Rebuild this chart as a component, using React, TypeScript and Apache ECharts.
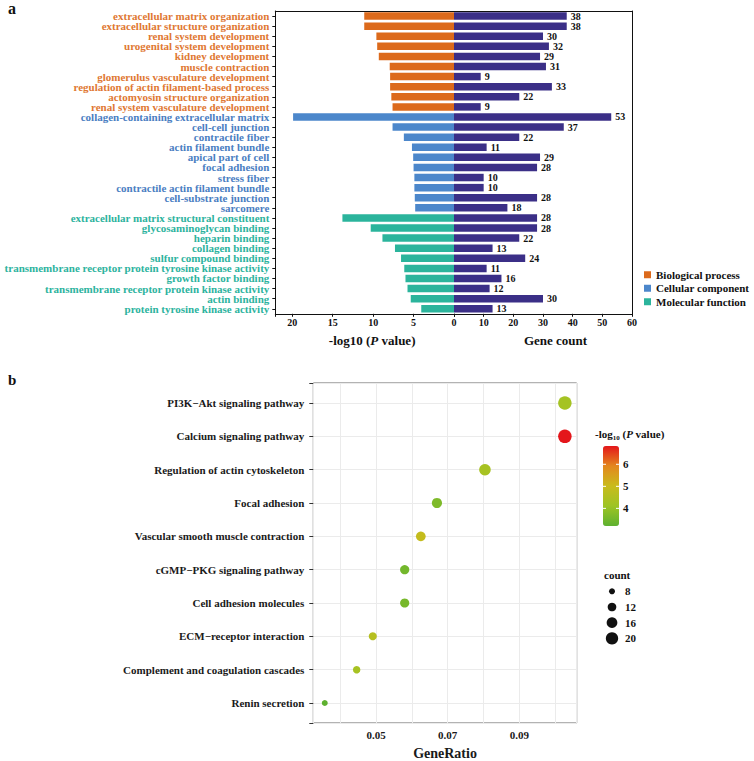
import React, { useEffect, useRef } from 'react';
import * as echarts from 'echarts';

const FONT = '"Liberation Serif", "Times New Roman", serif';

// ---------- Panel a: GO enrichment ----------
const goTerms = [
  'extracellular matrix organization',
  'extracellular structure organization',
  'renal system development',
  'urogenital system development',
  'kidney development',
  'muscle contraction',
  'glomerulus vasculature development',
  'regulation of actin filament-based process',
  'actomyosin structure organization',
  'renal system vasculature development',
  'collagen-containing extracellular matrix',
  'cell-cell junction',
  'contractile fiber',
  'actin filament bundle',
  'apical part of cell',
  'focal adhesion',
  'stress fiber',
  'contractile actin filament bundle',
  'cell-substrate junction',
  'sarcomere',
  'extracellular matrix structural constituent',
  'glycosaminoglycan binding',
  'heparin binding',
  'collagen binding',
  'sulfur compound binding',
  'transmembrane receptor protein tyrosine kinase activity',
  'growth factor binding',
  'transmembrane receptor protein kinase activity',
  'actin binding',
  'protein tyrosine kinase activity',
];
const goGroups = [
  'BP', 'BP', 'BP', 'BP', 'BP', 'BP', 'BP', 'BP', 'BP', 'BP',
  'CC', 'CC', 'CC', 'CC', 'CC', 'CC', 'CC', 'CC', 'CC', 'CC',
  'MF', 'MF', 'MF', 'MF', 'MF', 'MF', 'MF', 'MF', 'MF', 'MF',
];
const negLogP = [
  11.1, 11.1, 9.6, 9.5, 9.3, 7.95, 7.9, 7.9, 7.75, 7.6,
  19.9, 7.6, 6.2, 5.2, 5.05, 5.0, 4.9, 4.9, 4.85, 4.8,
  13.8, 10.3, 8.85, 7.3, 6.55, 6.15, 6.0, 5.75, 5.35, 4.05,
];
const geneCount = [
  38, 38, 30, 32, 29, 31, 9, 33, 22, 9,
  53, 37, 22, 11, 29, 28, 10, 10, 28, 18,
  28, 28, 22, 13, 24, 11, 16, 12, 30, 13,
];
const groupKeys = ['BP', 'CC', 'MF'];
const groupNames = ['Biological process', 'Cellular component', 'Molecular function'];
const barColors: Record<string, string> = { BP: '#DC6A1C', CC: '#4C87CB', MF: '#2BB49C' };
const labelColors: Record<string, string> = { BP: '#E07833', CC: '#4A7EC2', MF: '#2DB39E' };
const countColor = '#3B2F87';

// ---------- Panel b: KEGG dot plot ----------
const keggTerms = [
  'PI3K\u2212Akt signaling pathway',
  'Calcium signaling pathway',
  'Regulation of actin cytoskeleton',
  'Focal adhesion',
  'Vascular smooth muscle contraction',
  'cGMP\u2212PKG signaling pathway',
  'Cell adhesion molecules',
  'ECM\u2212receptor interaction',
  'Complement and coagulation cascades',
  'Renin secretion',
];
const geneRatio = [0.1027, 0.1027, 0.0804, 0.067, 0.0625, 0.058, 0.058, 0.0491, 0.0446, 0.0357];
const keggCount = [23, 23, 18, 15, 14, 13, 13, 11, 10, 8];
const keggLogP = [4.25, 6.83, 4.3, 3.65, 4.9, 3.5, 3.55, 4.6, 4.3, 3.2];
const ratioTickLabels = [0.05, 0.07, 0.09];
const colorbarTicks = [4, 5, 6];
const countLegend = [8, 12, 16, 20];

const CB_MIN = 3.2;
const CB_MAX = 6.83;
const CB_LEFT = 603;
const CB_TOP = 446;
const CB_W = 16;
const CB_H = 80;

const sizeOf = (c: number) => Math.sqrt(Math.max(9.73 * c - 41.9, 4));

function buildOption() {
  const bold = { fontFamily: FONT, fontWeight: 'bold' as const };
  const cbY = (v: number) => CB_TOP + ((CB_MAX - v) / (CB_MAX - CB_MIN)) * CB_H;

  const graphic: any[] = [
    { type: 'text', x: 8, y: 0, style: { text: 'a', fontSize: 16, ...bold, fill: '#111', verticalAlign: 'top' } },
    { type: 'text', x: 8, y: 372, style: { text: 'b', fontSize: 15, ...bold, fill: '#111', verticalAlign: 'top' } },
    {
      type: 'text',
      x: 595,
      y: 434,
      style: {
        text: '{t|-log}{s|10}{t| (}{i|P}{t| value)}',
        verticalAlign: 'middle',
        rich: {
          t: { fontSize: 11, ...bold, fill: '#111', lineHeight: 14 },
          i: { fontSize: 11, ...bold, fontStyle: 'italic', fill: '#111', lineHeight: 14 },
          s: { fontSize: 7, ...bold, fill: '#111', lineHeight: 9, verticalAlign: 'bottom' },
        },
      },
    },
    { type: 'text', x: 604, y: 575, style: { text: 'count', fontSize: 11, ...bold, fill: '#111', verticalAlign: 'middle' } },
  ];
  colorbarTicks.forEach((v) => {
    const y = cbY(v);
    graphic.push(
      { type: 'line', shape: { x1: CB_LEFT, y1: y, x2: CB_LEFT + 3, y2: y }, style: { stroke: '#fff', lineWidth: 1 }, z: 100 },
      { type: 'line', shape: { x1: CB_LEFT + CB_W - 3, y1: y, x2: CB_LEFT + CB_W, y2: y }, style: { stroke: '#fff', lineWidth: 1 }, z: 100 },
      { type: 'text', x: 623, y, style: { text: String(v), fontSize: 11, ...bold, fill: '#111', verticalAlign: 'middle' } },
    );
  });
  countLegend.forEach((c, k) => {
    const y = 591.3 + k * 15.7;
    graphic.push(
      { type: 'circle', shape: { cx: 612, cy: y, r: sizeOf(c) / 2 }, style: { fill: '#111' } },
      { type: 'text', x: 625, y, style: { text: String(c), fontSize: 11, ...bold, fill: '#111', verticalAlign: 'middle' } },
    );
  });

  const frameAxis = (gridIndex: number) => ({
    gridIndex,
    type: 'value',
    position: 'top',
    min: 0,
    max: 1,
    axisLine: { show: true, onZero: false, lineStyle: { color: '#111', width: 1 } },
    axisTick: { show: false },
    axisLabel: { show: false },
    splitLine: { show: false },
  });

  return {
    animation: false,
    backgroundColor: '#ffffff',
    textStyle: { fontFamily: FONT },
    legend: {
      data: groupNames,
      orient: 'vertical',
      left: 644,
      top: 268,
      padding: 0,
      itemWidth: 7,
      itemHeight: 7,
      itemGap: 0,
      icon: 'rect',
      selectedMode: false,
      textStyle: { fontSize: 11, ...bold, color: '#111', lineHeight: 13.5 },
    },
    grid: [
      { left: 275.3, right: 300, top: 11, bottom: 447.2 },
      { left: 454, right: 122, top: 11, bottom: 447.2 },
      { left: 313.3, right: 177.3, top: 383, bottom: 37.7, show: true, borderColor: '#666', borderWidth: 1, backgroundColor: 'transparent' },
    ],
    xAxis: [
      {
        gridIndex: 0,
        type: 'value',
        inverse: true,
        min: 0,
        max: 22.1,
        splitNumber: 5,
        axisLine: { show: true, onZero: false, lineStyle: { color: '#111', width: 1 } },
        axisTick: { show: true, length: 3, lineStyle: { color: '#111' } },
        axisLabel: {
          margin: 4,
          fontSize: 10,
          ...bold,
          color: '#111',
          formatter: (v: number) => (v === 0 || Math.abs(v % 5) > 1e-9 ? '' : String(v)),
        },
        splitLine: { show: false },
        name: '{t|-log10 (}{i|P}{t| value)}',
        nameLocation: 'middle',
        nameGap: 20,
        nameTextStyle: {
          padding: [0, 0, 0, 15],
          rich: {
            t: { fontSize: 13, ...bold, color: '#111' },
            i: { fontSize: 13, ...bold, fontStyle: 'italic', color: '#111' },
          },
        },
      },
      {
        gridIndex: 1,
        type: 'value',
        min: 0,
        max: 60,
        splitNumber: 6,
        axisLine: { show: true, onZero: false, lineStyle: { color: '#111', width: 1 } },
        axisTick: { show: true, length: 3, lineStyle: { color: '#111' } },
        axisLabel: { margin: 4, fontSize: 10, ...bold, color: '#111' },
        splitLine: { show: false },
        name: 'Gene count',
        nameLocation: 'middle',
        nameGap: 20,
        nameTextStyle: { fontSize: 13, ...bold, color: '#111', padding: [0, 0, 0, 25] },
      },
      frameAxis(0),
      frameAxis(1),
      {
        gridIndex: 2,
        type: 'value',
        min: 0.0325,
        max: 0.106,
        splitNumber: 7,
        axisLine: { show: false, onZero: false },
        axisTick: { show: false },
        axisLabel: {
          margin: 6,
          fontSize: 11,
          ...bold,
          color: '#1a1a1a',
          formatter: (v: number) => (ratioTickLabels.some((t) => Math.abs(v - t) < 1e-9) ? v.toFixed(2) : ''),
        },
        splitLine: { show: true, lineStyle: { color: '#EBEBEB', width: 1 } },
        name: 'GeneRatio',
        nameLocation: 'middle',
        nameGap: 23,
        nameTextStyle: { fontSize: 14, ...bold, color: '#1a1a1a' },
      },
    ],
    yAxis: [
      {
        gridIndex: 0,
        type: 'category',
        data: goTerms,
        inverse: true,
        axisLine: { show: true, onZero: false, lineStyle: { color: '#111', width: 1 } },
        axisTick: { show: true, length: 3, alignWithLabel: true, interval: 0, lineStyle: { color: '#111' } },
        axisLabel: {
          interval: 0,
          margin: 6,
          lineHeight: 9.5,
          formatter: (v: string, i: number) => `{${goGroups[i]}|${v}}`,
          rich: {
            BP: { fontSize: 11, ...bold, color: labelColors.BP, lineHeight: 9.5 },
            CC: { fontSize: 11, ...bold, color: labelColors.CC, lineHeight: 9.5 },
            MF: { fontSize: 11, ...bold, color: labelColors.MF, lineHeight: 9.5 },
          },
        },
        splitLine: { show: false },
      },
      {
        gridIndex: 1,
        type: 'category',
        data: goTerms,
        inverse: true,
        position: 'right',
        axisLine: { show: true, onZero: false, lineStyle: { color: '#111', width: 1 } },
        axisTick: { show: false },
        axisLabel: { show: false },
        splitLine: { show: false },
      },
      {
        gridIndex: 2,
        type: 'value',
        inverse: true,
        min: -0.6,
        max: 9.6,
        splitNumber: 10,
        axisLine: { show: false, onZero: false },
        axisTick: { show: true, length: 4, lineStyle: { color: '#333' } },
        axisLabel: {
          margin: 9,
          fontSize: 11,
          ...bold,
          color: '#1a1a1a',
          formatter: (v: number) => (Number.isInteger(v) && v >= 0 && v < keggTerms.length ? keggTerms[v] : ''),
        },
        splitLine: { show: true, lineStyle: { color: '#EBEBEB', width: 1 } },
      },
    ],
    visualMap: [
      {
        type: 'continuous',
        seriesIndex: 4,
        dimension: 2,
        min: CB_MIN,
        max: CB_MAX,
        orient: 'vertical',
        left: CB_LEFT,
        top: CB_TOP,
        itemWidth: CB_W,
        itemHeight: CB_H,
        padding: 0,
        calculable: false,
        hoverLink: false,
        inRange: { color: ['#5EB130', '#9EC424', '#C9BB1C', '#E3871D', '#E4161B'] },
      },
    ],
    graphic,
    series: [
      ...groupKeys.map((g, k) => ({
        type: 'bar',
        name: groupNames[k],
        xAxisIndex: 0,
        yAxisIndex: 0,
        stack: 'logp',
        barWidth: 7.5,
        itemStyle: { color: barColors[g] },
        data: negLogP.map((v, i) => (goGroups[i] === g ? v : '-')),
      })),
      {
        type: 'bar',
        name: 'Gene count',
        xAxisIndex: 1,
        yAxisIndex: 1,
        barWidth: 7.5,
        itemStyle: { color: countColor },
        label: { show: true, position: 'right', distance: 4, fontSize: 10, ...bold, color: '#111' },
        data: geneCount,
      },
      {
        type: 'scatter',
        name: 'KEGG',
        xAxisIndex: 4,
        yAxisIndex: 2,
        data: keggTerms.map((t, i) => [geneRatio[i], i, keggLogP[i], keggCount[i], t]),
        symbolSize: (d: number[]) => sizeOf(d[3]),
        itemStyle: { opacity: 1 },
      },
    ],
  };
}

export default function App() {
  const ref = useRef<HTMLDivElement>(null);
  useEffect(() => {
    if (!ref.current) return;
    const chart = echarts.init(ref.current, null, { renderer: 'svg' });
    chart.setOption(buildOption() as any);
    return () => chart.dispose();
  }, []);
  return <div ref={ref} style={{ position: 'absolute', left: 0, top: 0, width: 754, height: 761 }} />;
}
